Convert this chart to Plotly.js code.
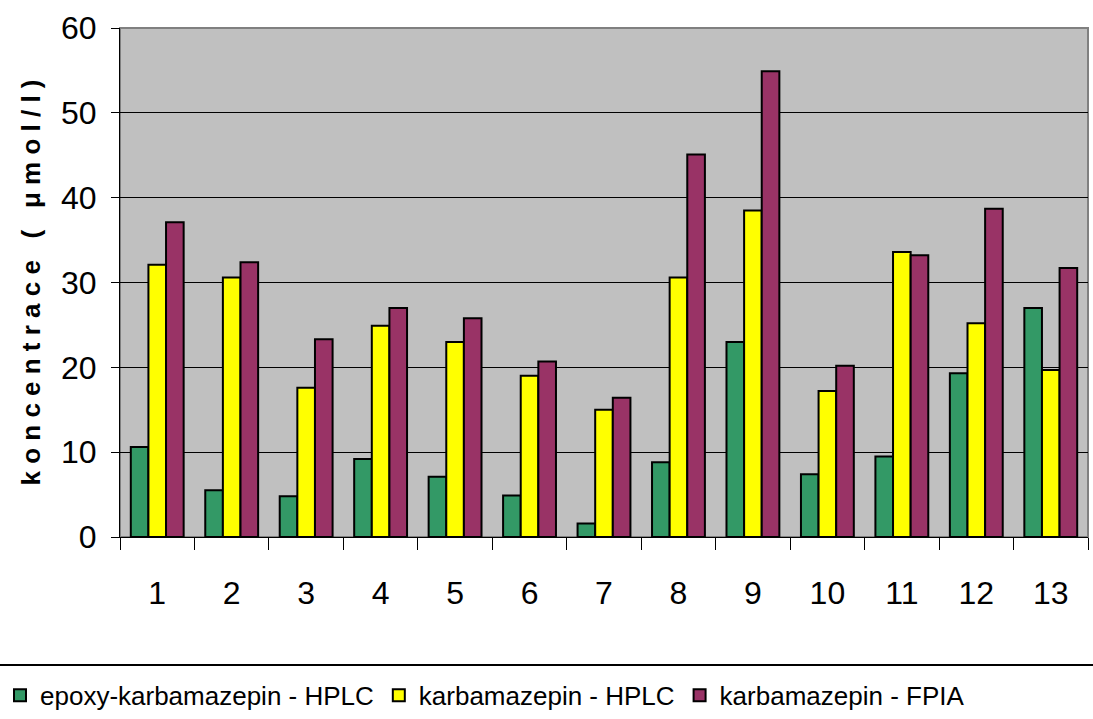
<!DOCTYPE html>
<html>
<head>
<meta charset="utf-8">
<script src="https://cdn.plot.ly/plotly-3.0.1.min.js"></script>
<style>
	body { margin: 0; background: #fff; }
	#chart { width: 1093px; height: 719px; }
</style>
</head>
<body>
<div id="chart"></div>
<script>
// vzorky 1..13
const samples = ['1', '2', '3', '4', '5', '6', '7', '8', '9', '10', '11', '12', '13']

const epoxyHplc = [10.6, 5.5, 4.8, 9.2, 7.1, 4.9, 1.6, 8.8, 23.0, 7.4, 9.5, 19.3, 27.0]
const karbaHplc = [32.1, 30.6, 17.6, 24.9, 23.0, 19.0, 15.0, 30.6, 38.5, 17.2, 33.6, 25.2, 19.7]
const karbaFpia = [37.1, 32.4, 23.3, 27.0, 25.8, 20.7, 16.4, 45.1, 54.9, 20.2, 33.2, 38.7, 31.7]

const yTicks = [0, 10, 20, 30, 40, 50, 60]

const font = '"Liberation Sans Narrow", "Liberation Sans", Arial, sans-serif'

const newTrace = (values, name, color) => {
	return {
		type: 'bar',
		name: name,
		x: samples,
		y: values,
		marker: {color: color, line: {color: '#000', width: 2}}
	}
}

const data = [
	newTrace(epoxyHplc, 'epoxy-karbamazepin - HPLC', '#339966'),
	newTrace(karbaHplc, 'karbamazepin - HPLC', '#ffff00'),
	newTrace(karbaFpia, 'karbamazepin - FPIA', '#993366')
]

// prolozeny titulek osy y
const yTitle = ['k','o','n','c','e','n','t','r','a','c','e',' ','(',' ','μ','m','o','l','/','l',')'].join(' ')

const layout = {
	width: 1093,
	height: 719,
	margin: {l: 120, r: 5, t: 28, b: 182},
	paper_bgcolor: '#fff',
	plot_bgcolor: '#c0c0c0',
	barmode: 'group',
	bargap: 0.29,
	bargroupgap: 0,
	font: {family: font, size: 30, color: '#000'},
	xaxis: {
		type: 'category',
		automargin: false,
		tickson: 'boundaries',
		ticks: 'outside',
		ticklen: 12,
		tickcolor: '#000',
		ticklabelstandoff: 28,
		showline: true,
		linecolor: '#000',
		linewidth: 1,
		showgrid: false,
		tickfont: {family: font, size: 32, color: '#000'}
	},
	yaxis: {
		automargin: false,
		range: [0, 60],
		tickvals: yTicks,
		ticks: 'outside',
		ticklen: 8,
		tickcolor: '#000',
		ticklabelstandoff: 8,
		showline: true,
		linecolor: '#000',
		showgrid: true,
		gridcolor: '#000',
		gridwidth: 1,
		zeroline: false,
		tickfont: {family: font, size: 32, color: '#000'},
		title: {
			text: yTitle,
			standoff: 12,
			font: {family: 'Liberation Sans, Arial, sans-serif', size: 26, color: '#000', weight: 'bold'}
		}
	},
	showlegend: true,
	legend: {
		orientation: 'h',
		xref: 'container',
		yref: 'container',
		x: 0,
		xanchor: 'left',
		y: 0.033,
		yanchor: 'middle',
		font: {family: font, size: 26, color: '#000'},
		itemwidth: 30,
		tracegroupgap: 0
	},
	shapes: [
		{type: 'rect', xref: 'paper', yref: 'paper', x0: 0, x1: 1, y0: 0, y1: 1,
			line: {color: '#808080', width: 2}, layer: 'below'},
		{type: 'line', xref: 'paper', yref: 'paper', x0: -0.13, x1: 1.01, y0: -0.2515, y1: -0.2515,
			line: {color: '#000', width: 2}}
	]
}

Plotly.newPlot('chart', data, layout, {displayModeBar: false})
</script>
</body>
</html>
